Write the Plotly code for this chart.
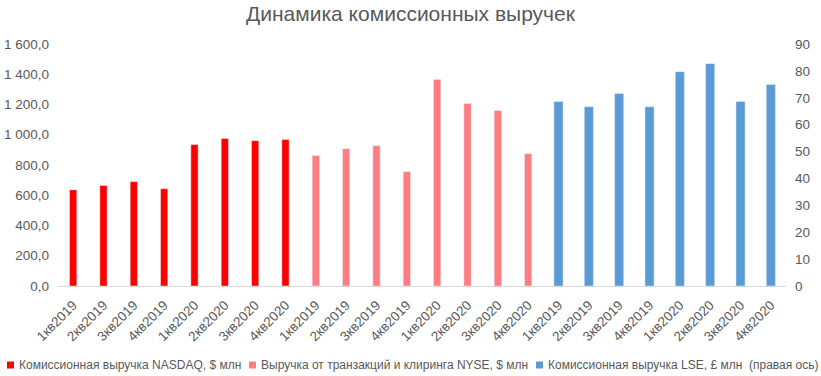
import plotly.graph_objects as go

quarters = ["1кв2019", "2кв2019", "3кв2019", "4кв2019", "1кв2020", "2кв2020", "3кв2020", "4кв2020"]
nasdaq = [636, 665, 690, 643, 935, 975, 961, 968]
nyse = [862, 908, 928, 756, 1366, 1207, 1160, 875]
lse = [68.6, 66.7, 71.6, 66.7, 79.7, 82.7, 68.6, 74.9]

names = ["Комиссионная выручка NASDAQ, $ млн",
         "Выручка от транзакций и клиринга NYSE, $ млн",
         "Комиссионная выручка LSE, £ млн \u00a0(правая ось)"]
colors = ["#FF0000", "#FF7C80", "#5B9BD5"]

left_ticks = [0, 200, 400, 600, 800, 1000, 1200, 1400, 1600]
left_ticktext = ["0,0", "200,0", "400,0", "600,0", "800,0", "1 000,0", "1 200,0", "1 400,0", "1 600,0"]
right_ticks = [0, 10, 20, 30, 40, 50, 60, 70, 80, 90]

W, H = 821, 376
L, R, T, B = 58, 35, 44, 90
pw, ph = W - L - R, H - T - B

def px(x):
    return (x - L) / pw

def py(y):
    return (H - B - y) / ph

n = len(quarters)
x1 = list(range(0, n))
x2 = list(range(n, 2 * n))
x3 = list(range(2 * n, 3 * n))

fig = go.Figure()
fig.add_trace(go.Bar(x=x1, y=nasdaq, name=names[0], marker_color=colors[0], width=0.24, showlegend=False))
fig.add_trace(go.Bar(x=x2, y=nyse, name=names[1], marker_color=colors[1], width=0.24, showlegend=False))
fig.add_trace(go.Bar(x=x3, y=lse, name=names[2], marker_color=colors[2], width=0.30, yaxis="y2", showlegend=False))

grey = "#595959"
fam = "Liberation Sans, Arial, sans-serif"

# legend drawn as symbol squares + text
legend_text_x = [17, 259, 546]
legend_y = 365
shapes = []
annotations = []
for name, col, tx in zip(names, colors, legend_text_x):
    shapes.append(dict(type="rect", xref="paper", yref="paper",
                       x0=px(tx - 10), x1=px(tx - 3), y0=py(legend_y + 3.5), y1=py(legend_y - 3.5),
                       fillcolor=col, line=dict(width=0)))
    annotations.append(dict(text=name, xref="paper", yref="paper", x=px(tx), y=py(legend_y),
                            xanchor="left", yanchor="middle", showarrow=False,
                            font=dict(family=fam, size=12, color=grey)))

fig.update_layout(
    width=W, height=H,
    margin=dict(l=L, r=R, t=T, b=B, autoexpand=False),
    paper_bgcolor="white", plot_bgcolor="white",
    barmode="overlay",
    title=dict(text="Динамика комиссионных выручек", x=0.5, xanchor="center", y=1 - 14 / H, yanchor="middle",
               font=dict(family=fam, size=21, color=grey)),
    font=dict(family=fam, size=13, color=grey),
    xaxis=dict(tickvals=x1 + x2 + x3, ticktext=quarters * 3, tickangle=-45, range=[-0.5, 3 * n - 0.5],
               showgrid=False, showline=True, linecolor="#D9D9D9", linewidth=1, ticks="",
               ticklabelstandoff=5, automargin=False, tickfont=dict(size=13.5, color=grey)),
    yaxis=dict(range=[0, 1600], tickvals=left_ticks, ticktext=left_ticktext, showgrid=False,
               zeroline=False, automargin=False, ticks="", ticklabelstandoff=8,
               tickfont=dict(size=13.5, color=grey)),
    yaxis2=dict(range=[0, 90], tickvals=right_ticks, overlaying="y", side="right", showgrid=False,
                zeroline=False, automargin=False, ticks="", ticklabelstandoff=8,
                tickfont=dict(size=13.5, color=grey)),
    shapes=shapes,
    annotations=annotations,
    showlegend=False,
)

fig.write_html("out.html", config={"displayModeBar": False},
               post_script="document.body.style.margin='0';")
